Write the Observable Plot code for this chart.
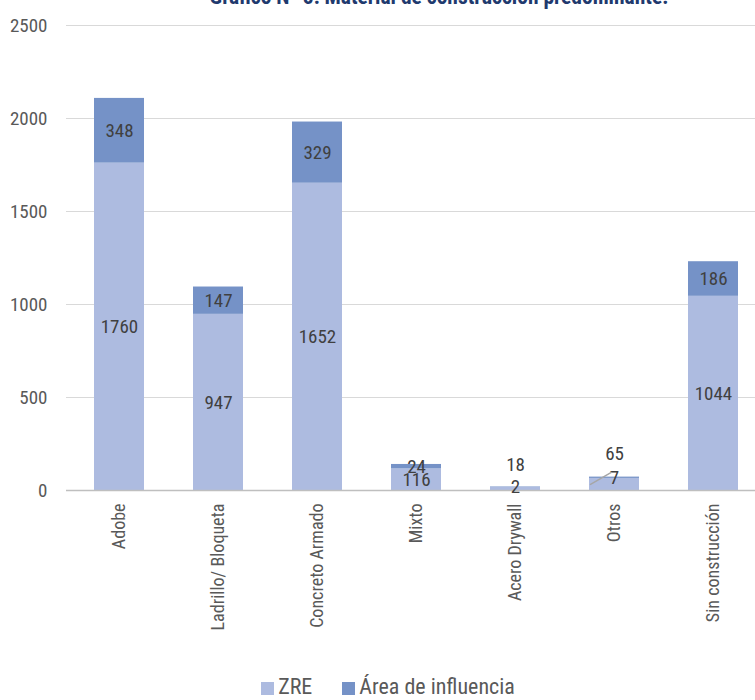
<!DOCTYPE html>
<html>
<head>
<meta charset="utf-8">
<script src="https://cdn.jsdelivr.net/npm/d3@7"></script>
<script src="https://cdn.jsdelivr.net/npm/@observablehq/plot@0.6"></script>
<style>
  html, body { margin: 0; padding: 0; background: #fff; overflow: hidden; }
  #wrap { position: relative; width: 755px; height: 700px; overflow: hidden;
          font-family: "Liberation Sans Narrow", "Arial Narrow", "Roboto", sans-serif; font-stretch: condensed; }
  #title { position: absolute; top: -13px; left: 439px; transform: translateX(-50%); white-space: nowrap;
           font-size: 21.5px; line-height: 20px; font-weight: bold; color: #1f3a6e; }
  #chart { position: absolute; left: 0; top: 0; width: 765px; }
  #chart svg { max-width: none !important; }
  #legend { position: absolute; left: 0; width: 776px; top: 675px; text-align: center; font-size: 22px; line-height: 24px; color: #595959; white-space: nowrap; }
  #legend span.item { display: inline-block; margin: 0 15px; }
  #legend span.sw { display: inline-block; width: 13px; height: 13px; margin-right: 4px; vertical-align: -1px; }
</style>
</head>
<body>
<div id="wrap">
  <div id="chart"></div>
  <div id="title">Gráfico N° 5: Material de construcción predominante.</div>
  <div id="legend"></div>
</div>
<script>
// ---- data ----
const categories = ["Adobe", "Ladrillo/ Bloqueta", "Concreto Armado", "Mixto", "Acero Drywall", "Otros", "Sin construcción"];
const zreValues = [1760, 947, 1652, 116, 18, 65, 1044];
const areaValues = [348, 147, 329, 24, 2, 7, 186];
const seriesNames = ["ZRE", "Área de influencia"];
const seriesColors = ["#adbbe0", "#7592c7"];
const yTicks = [0, 500, 1000, 1500, 2000, 2500];

// ---- table ----
const rows = [];
categories.forEach((c, i) => {
  rows.push({cat: c, series: seriesNames[0], value: zreValues[i], mid: zreValues[i] / 2});
  rows.push({cat: c, series: seriesNames[1], value: areaValues[i], mid: zreValues[i] + areaValues[i] / 2});
});

// labels moved above small bars (pixel nudges, as in the original)
const nudge = new Map([["Acero Drywall", -24], ["Otros", -31]]);
const isNudged = d => d.series === seriesNames[0] && nudge.has(d.cat);

const font = "'Liberation Sans Narrow', 'Arial Narrow', Roboto, sans-serif";
const labelColor = "#404040";

const marks = [
  Plot.ruleY(yTicks.filter(d => d > 0), {stroke: "#d9d9d9", strokeWidth: 1}),
  Plot.barY(rows, {x: "cat", y: "value", fill: "series"}),
  Plot.ruleY([0], {stroke: "#bfbfbf", strokeWidth: 1.5}),
  Plot.axisY(yTicks, {tickSize: 0, tickPadding: 19, fontSize: 19, color: "#595959", tickFormat: d => String(d)}),
  Plot.axisX({tickSize: 0, tickRotate: -90, tickPadding: 13, fontSize: 18, color: "#595959"}),
  Plot.text(rows.filter(d => !isNudged(d)), {x: "cat", y: "mid", text: d => String(d.value), fill: labelColor, fontSize: 19})
];
rows.filter(isNudged).forEach(d => {
  marks.push(Plot.text([d], {x: "cat", y: "mid", text: r => String(r.value), fill: labelColor, fontSize: 19, dy: nudge.get(d.cat)}));
});
// leader line for "Otros"
const otros = rows.find(d => d.cat === "Otros" && d.series === seriesNames[0]);
marks.push(Plot.vector([otros], {
  x: "cat", y: "mid", dx: -24, length: 24, rotate: 60, anchor: "start",
  stroke: "#a6a6a6", strokeWidth: 1.5,
  shape: {draw(context, l) { context.moveTo(0, 0); context.lineTo(0, -l); }}
}));

const chart = Plot.plot({
  width: 765,
  height: 665,
  marginLeft: 66,
  marginRight: 0,
  marginTop: 25,
  marginBottom: 175,
  style: {fontFamily: font, fontSize: "19px", background: "transparent", maxWidth: "none"},
  x: {domain: categories, paddingInner: 0.5, paddingOuter: 0.25, label: null},
  y: {domain: [0, 2500], label: null},
  color: {domain: seriesNames, range: seriesColors},
  marks
});
document.getElementById("chart").append(chart);

// legend
const legend = document.getElementById("legend");
seriesNames.forEach((s, i) => {
  const item = document.createElement("span");
  item.className = "item";
  const sw = document.createElement("span");
  sw.className = "sw";
  sw.style.background = seriesColors[i];
  item.append(sw, document.createTextNode(s));
  legend.append(item);
});
</script>
</body>
</html>
